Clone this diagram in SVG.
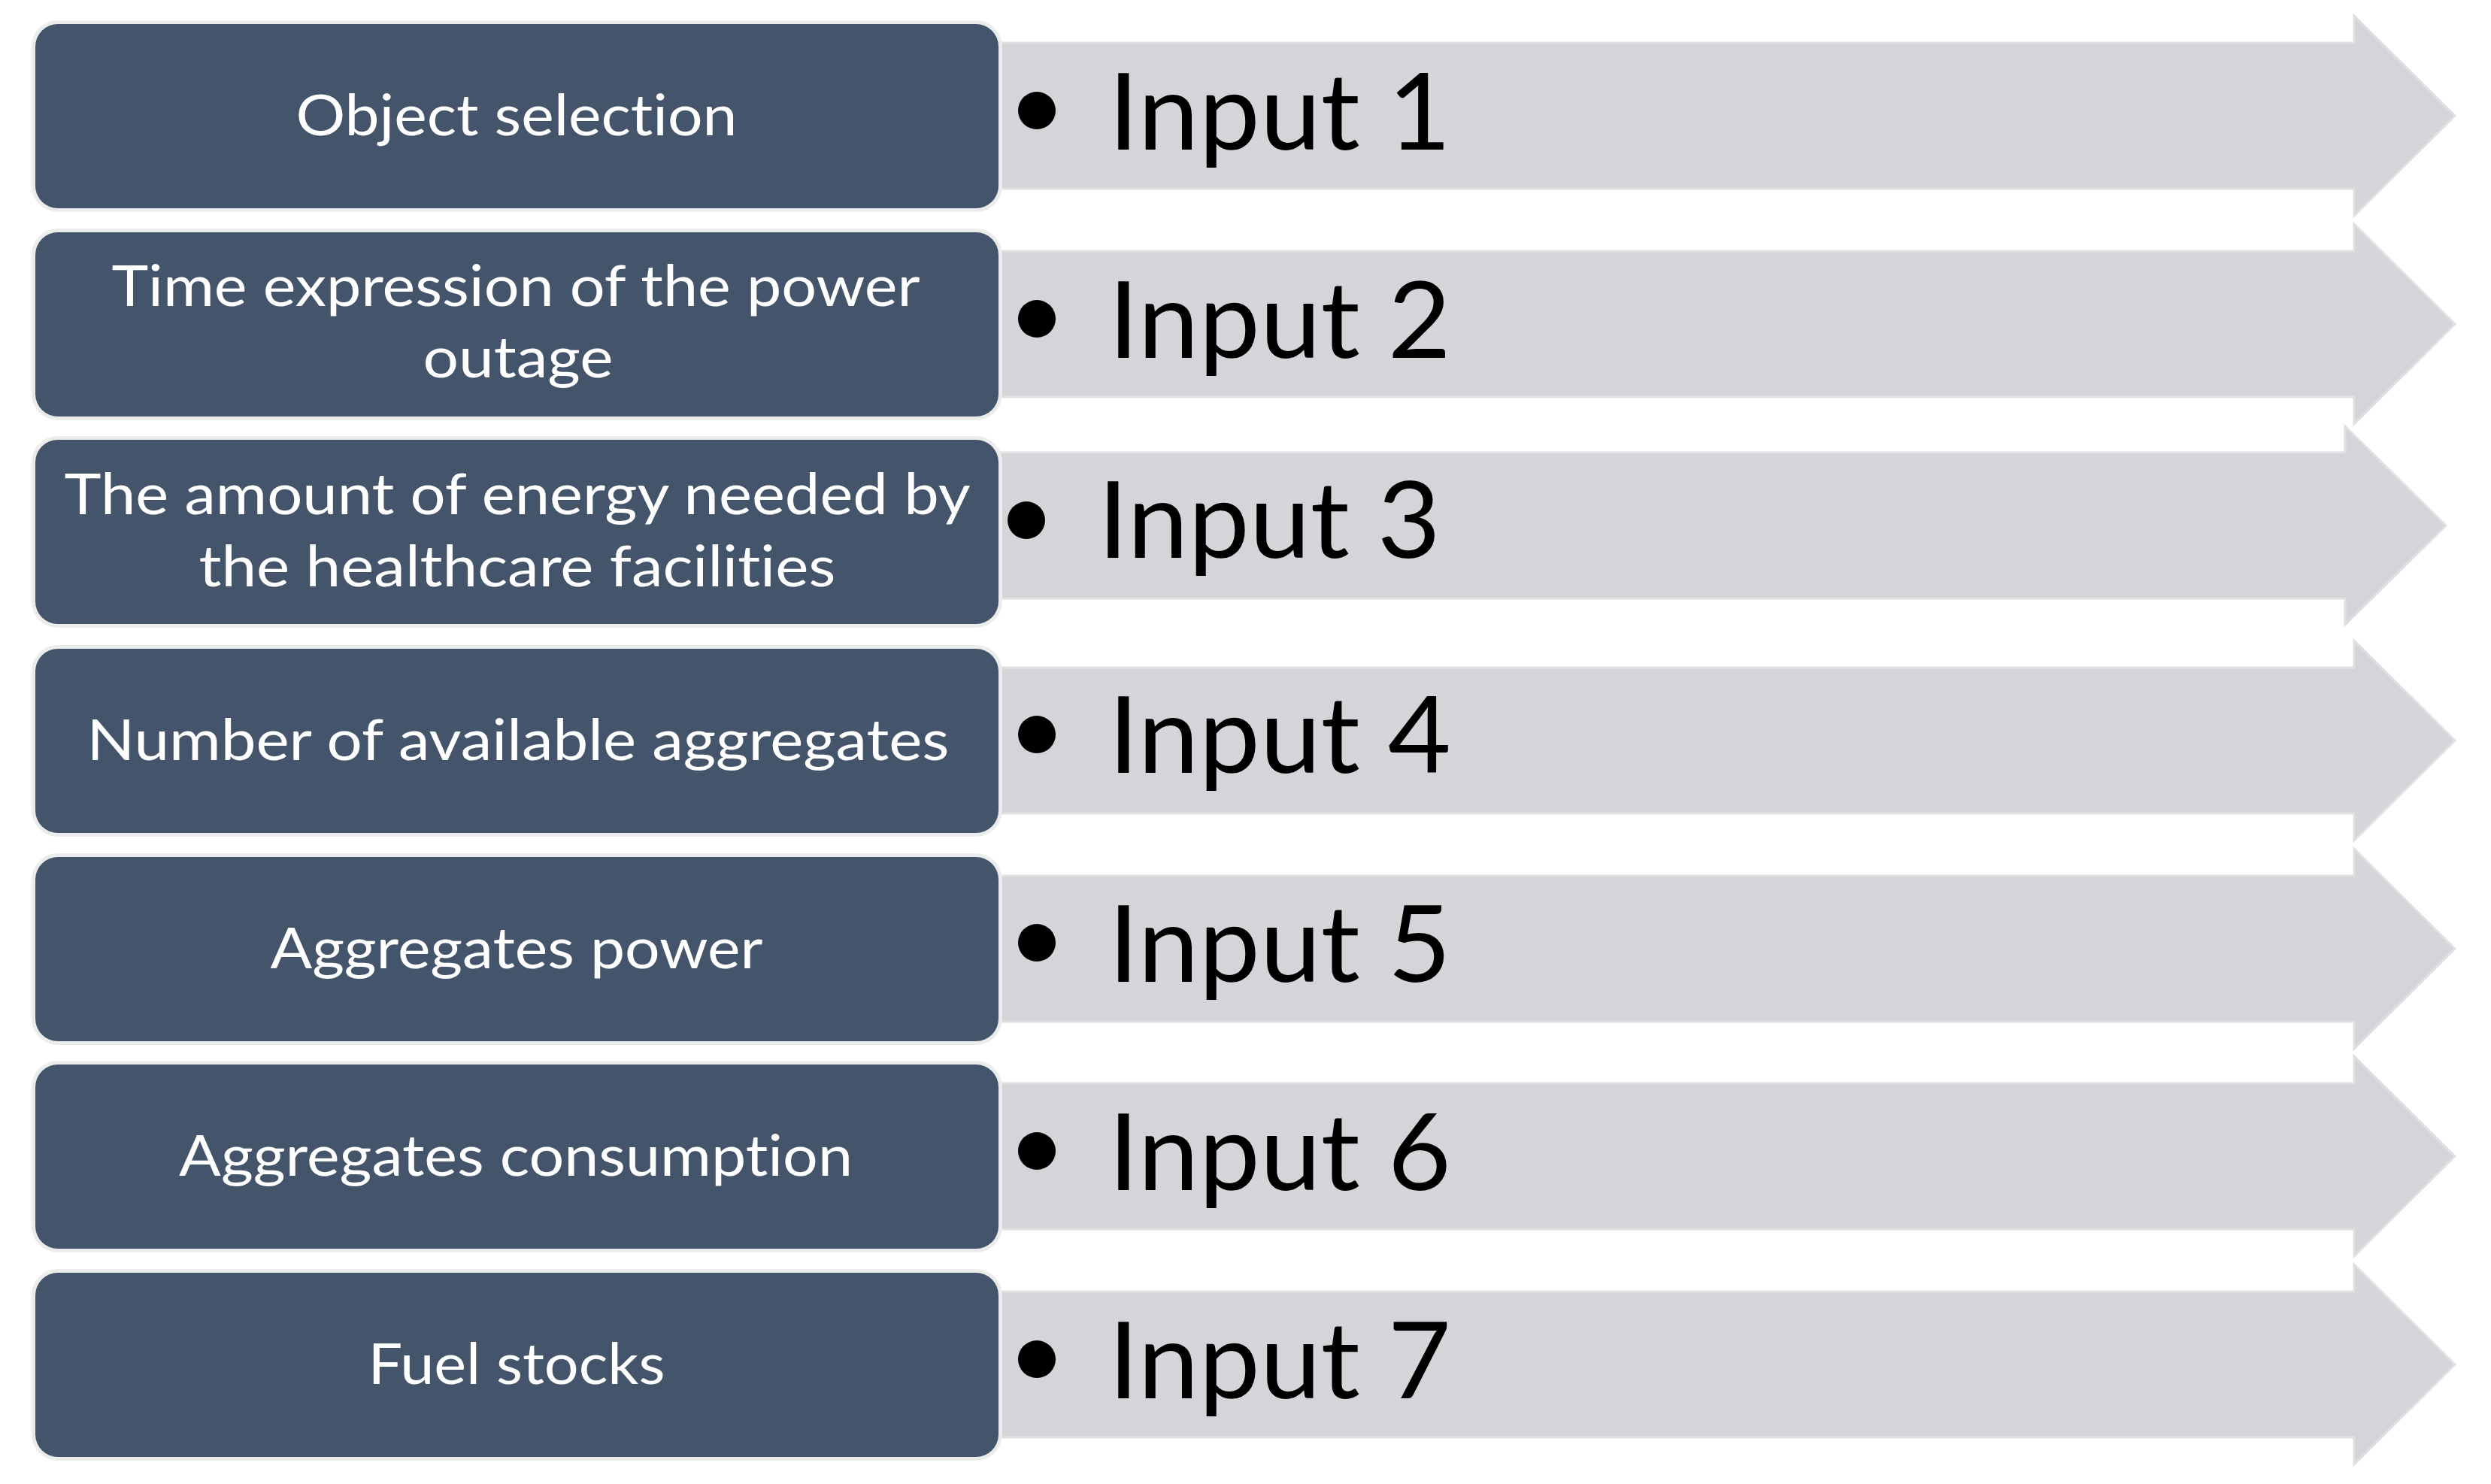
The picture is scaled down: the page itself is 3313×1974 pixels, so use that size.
<svg xmlns="http://www.w3.org/2000/svg" width="3313" height="1974" viewBox="0 0 3313 1974">
<style>
.bg{fill:#ffffff}
.arrow{fill:#d3d5d8;stroke:#dfe0e2;stroke-width:3;stroke-linejoin:miter}
.box{fill:#44546a;stroke:#ececec;stroke-width:10;paint-order:stroke}
.lbl{font-family:Lato,"Open Sans","Liberation Sans",sans-serif;font-size:76px;fill:#ffffff;text-anchor:middle;font-variant-ligatures:none;font-feature-settings:"liga" 0,"dlig" 0}
.inp{font-family:Lato,"Open Sans","Liberation Sans",sans-serif;font-size:141px;fill:#000000}
.dot{fill:#000000}
</style>
<rect class="bg" x="0" y="0" width="3313" height="1974"/>
<g id="row1">
  <polygon class="arrow" points="1330,57 3131,57 3131,21 3265,154 3131,287 3131,251 1330,251"/>
  <rect class="box" x="47" y="32" width="1281" height="245" rx="30" ry="30"/>
  <text class="lbl" x="687" y="180" textLength="587" lengthAdjust="spacingAndGlyphs">Object selection</text>
  <circle class="dot" cx="1379" cy="147" r="25"/>
  <text class="inp" x="1474" y="199" textLength="456" lengthAdjust="spacingAndGlyphs">Input 1</text>
</g>
<g id="row2">
  <polygon class="arrow" points="1330,334 3131,334 3131,298 3265,431 3131,564 3131,528 1330,528"/>
  <rect class="box" x="47" y="309" width="1281" height="245" rx="30" ry="30"/>
  <text class="lbl" x="686" y="407" textLength="1075" lengthAdjust="spacingAndGlyphs">Time expression of the power</text>
  <text class="lbl" x="689" y="502" textLength="253" lengthAdjust="spacingAndGlyphs">outage</text>
  <circle class="dot" cx="1379" cy="424" r="25"/>
  <text class="inp" x="1474" y="476" textLength="456" lengthAdjust="spacingAndGlyphs">Input 2</text>
</g>
<g id="row3">
  <polygon class="arrow" points="1330,602 3119,602 3119,567 3253,699 3119,831 3119,796 1330,796"/>
  <rect class="box" x="47" y="585" width="1281" height="245" rx="30" ry="30"/>
  <text class="lbl" x="688" y="684" textLength="1205" lengthAdjust="spacingAndGlyphs">The amount of energy needed by</text>
  <text class="lbl" x="688" y="780" textLength="847" lengthAdjust="spacingAndGlyphs">the healthcare facilities</text>
  <circle class="dot" cx="1365" cy="692" r="25"/>
  <text class="inp" x="1460" y="742" textLength="456" lengthAdjust="spacingAndGlyphs">Input 3</text>
</g>
<g id="row4">
  <polygon class="arrow" points="1330,888 3131,888 3131,852 3265,985 3131,1118 3131,1082 1330,1082"/>
  <rect class="box" x="47" y="863" width="1281" height="245" rx="30" ry="30"/>
  <text class="lbl" x="689" y="1011" textLength="1147" lengthAdjust="spacingAndGlyphs">Number of available aggregates</text>
  <circle class="dot" cx="1379" cy="977" r="25"/>
  <text class="inp" x="1474" y="1028" textLength="456" lengthAdjust="spacingAndGlyphs">Input 4</text>
</g>
<g id="row5">
  <polygon class="arrow" points="1330,1165 3131,1165 3131,1129 3265,1262 3131,1395 3131,1359 1330,1359"/>
  <rect class="box" x="47" y="1140" width="1281" height="245" rx="30" ry="30"/>
  <text class="lbl" x="687" y="1288" textLength="655" lengthAdjust="spacingAndGlyphs">Aggregates power</text>
  <circle class="dot" cx="1379" cy="1254" r="25"/>
  <text class="inp" x="1474" y="1306" textLength="456" lengthAdjust="spacingAndGlyphs">Input 5</text>
</g>
<g id="row6">
  <polygon class="arrow" points="1330,1441 3131,1441 3131,1405 3265,1538 3131,1671 3131,1635 1330,1635"/>
  <rect class="box" x="47" y="1416" width="1281" height="245" rx="30" ry="30"/>
  <text class="lbl" x="686" y="1564" textLength="896" lengthAdjust="spacingAndGlyphs">Aggregates consumption</text>
  <circle class="dot" cx="1379" cy="1531" r="25"/>
  <text class="inp" x="1474" y="1583" textLength="456" lengthAdjust="spacingAndGlyphs">Input 6</text>
</g>
<g id="row7">
  <polygon class="arrow" points="1330,1718 3131,1718 3131,1682 3265,1815 3131,1948 3131,1912 1330,1912"/>
  <rect class="box" x="47" y="1693" width="1281" height="245" rx="30" ry="30"/>
  <text class="lbl" x="687" y="1841" textLength="395" lengthAdjust="spacingAndGlyphs">Fuel stocks</text>
  <circle class="dot" cx="1379" cy="1808" r="25"/>
  <text class="inp" x="1474" y="1860" textLength="456" lengthAdjust="spacingAndGlyphs">Input 7</text>
</g>
<g id="connectors"></g>
</svg>
